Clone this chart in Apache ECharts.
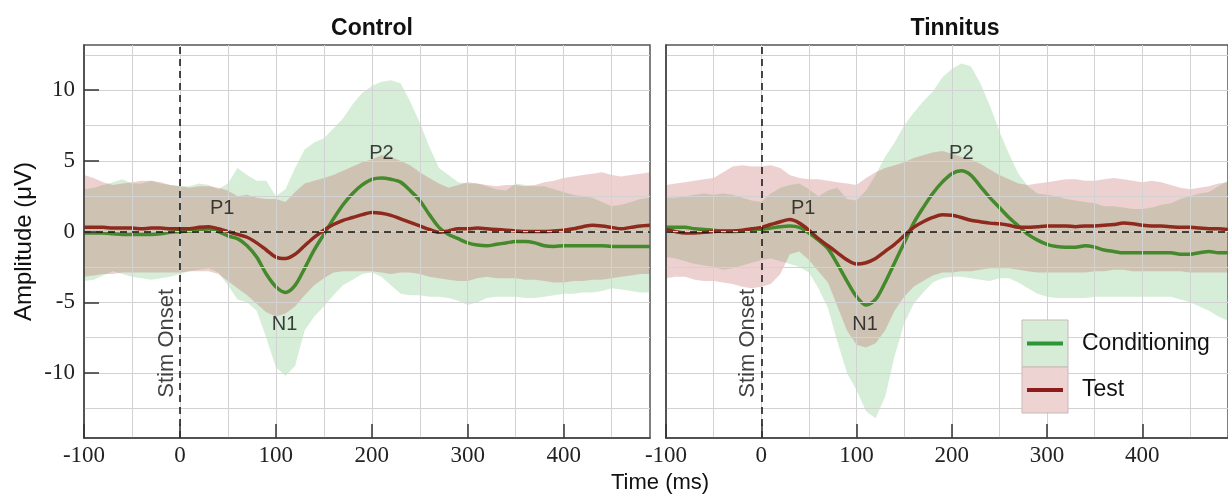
<!DOCTYPE html>
<html>
<head>
<meta charset="utf-8">
<script src="https://cdn.jsdelivr.net/npm/echarts@6/dist/echarts.min.js"></script>
<style>
  html, body { margin: 0; padding: 0; background: #fff; }
  #chart { width: 1228px; height: 497px; }
</style>
</head>
<body>
<div id="chart"></div>
<script>
// time axis (ms)
const times = [-100, -90, -80, -70, -60, -50, -40, -30, -20, -10,
  0, 10, 20, 30, 40, 50, 60, 70, 80, 90,
  100, 110, 120, 130, 140, 150, 160, 170, 180, 190,
  200, 210, 220, 230, 240, 250, 260, 270, 280, 290,
  300, 310, 320, 330, 340, 350, 360, 370, 380, 390,
  400, 410, 420, 430, 440, 450, 460, 470, 480, 490];

// Control - Conditioning
const ctrlCondMean = [-0.1, -0.1, -0.1, -0.15, -0.2, -0.2, -0.2, -0.2, -0.15, -0.05,
  0.0, 0.05, 0.1, 0.2, 0.0, -0.3, -0.5, -1.0, -1.8, -3.0,
  -3.9, -4.3, -3.8, -2.6, -1.3, -0.2, 0.9, 1.9, 2.7, 3.3,
  3.7, 3.8, 3.7, 3.5, 2.9, 2.2, 1.2, 0.3, -0.2, -0.5,
  -0.8, -0.95, -1.0, -0.9, -0.8, -0.7, -0.7, -0.8, -1.0, -1.05,
  -1.0, -1.0, -1.0, -1.0, -1.0, -1.05, -1.05, -1.05, -1.05, -1.05];
const ctrlCondHigh = [3.0, 3.1, 3.3, 3.5, 3.7, 3.4, 3.4, 3.6, 3.4, 3.3,
  3.2, 3.2, 3.4, 3.3, 3.0, 3.4, 4.5, 4.0, 3.6, 3.6,
  2.5, 3.0, 4.5, 5.8, 6.3, 6.6, 7.3, 8.0, 9.0, 9.8,
  10.3, 10.6, 10.7, 10.5, 9.2, 7.7, 6.0, 4.5, 4.0, 3.5,
  3.4, 3.4, 3.2, 3.0, 2.9, 3.4, 3.3, 3.2, 3.2, 3.0,
  2.8, 2.6, 2.5, 2.4, 2.1, 1.8, 1.9, 2.1, 2.3, 2.4];
const ctrlCondLow = [-3.5, -3.4, -3.1, -2.8, -3.0, -3.2, -3.3, -3.4, -3.3, -3.2,
  -3.0, -2.8, -2.7, -2.6, -2.9, -3.8, -4.8, -5.0, -5.6, -7.5,
  -9.6, -10.2, -9.5, -7.0, -6.0, -5.3, -4.5, -3.8, -3.4, -3.0,
  -2.9, -3.2, -3.8, -4.4, -4.5, -4.5, -4.6, -4.6, -4.7, -4.9,
  -5.2, -5.0, -4.7, -4.6, -4.6, -4.6, -4.7, -4.7, -4.6, -4.5,
  -4.4, -4.4, -4.3, -4.3, -4.2, -4.0, -4.1, -4.2, -4.3, -4.3];

// Control - Test
const ctrlTestMean = [0.3, 0.3, 0.3, 0.25, 0.25, 0.25, 0.2, 0.25, 0.25, 0.2,
  0.2, 0.2, 0.3, 0.35, 0.2, 0.0, -0.2, -0.4, -0.8, -1.3,
  -1.8, -1.9, -1.6, -1.0, -0.4, 0.1, 0.5, 0.8, 1.0, 1.2,
  1.35, 1.3, 1.15, 0.9, 0.65, 0.4, 0.15, -0.05, 0.05, 0.2,
  0.2, 0.25, 0.2, 0.15, 0.1, 0.05, 0.0, 0.0, 0.0, 0.05,
  0.1, 0.2, 0.35, 0.45, 0.4, 0.3, 0.2, 0.3, 0.4, 0.45];
const ctrlTestHigh = [4.0, 3.8, 3.5, 3.3, 3.4, 3.5, 3.6, 3.6, 3.5, 3.3,
  3.2, 3.1, 3.2, 3.2, 3.1, 2.9, 2.5, 2.6, 2.4, 2.3,
  2.3, 2.1, 2.8, 3.4, 3.6, 3.8, 4.0, 4.3, 4.6, 4.9,
  5.1, 5.4, 5.3, 5.0, 4.7, 4.2, 3.8, 3.4, 3.1, 3.3,
  3.5, 3.4, 3.3, 3.2, 3.3, 3.3, 3.2, 3.3, 3.5, 3.6,
  3.8, 3.9, 4.0, 4.1, 4.2, 4.0, 3.9, 4.0, 4.1, 4.2];
const ctrlTestLow = [-3.2, -3.1, -3.0, -3.0, -2.9, -2.9, -2.9, -2.9, -2.9, -2.9,
  -2.9, -2.8, -2.8, -2.8, -3.0, -3.5, -4.0, -4.5, -5.1, -5.7,
  -6.0, -5.8, -5.3, -4.5, -3.8, -3.3, -2.9, -2.8, -2.8, -2.8,
  -2.8, -2.9, -3.0, -2.9, -2.9, -3.0, -3.2, -3.3, -3.4, -3.5,
  -3.5, -3.3, -3.2, -3.3, -3.3, -3.3, -3.4, -3.4, -3.5, -3.6,
  -3.6, -3.5, -3.5, -3.4, -3.4, -3.3, -3.2, -3.1, -3.0, -3.0];

// Tinnitus - Conditioning
const tinnCondMean = [0.3, 0.3, 0.3, 0.2, 0.15, 0.1, 0.0, 0.0, 0.05, 0.1,
  0.15, 0.25, 0.35, 0.4, 0.3, -0.1, -0.6, -1.2, -2.3, -3.5,
  -4.6, -5.2, -4.8, -3.6, -2.2, -0.8, 0.6, 1.7, 2.7, 3.5,
  4.1, 4.3, 4.0, 3.2, 2.4, 1.7, 1.0, 0.4, -0.2, -0.6,
  -0.9, -1.05, -1.1, -1.1, -1.0, -1.1, -1.3, -1.4, -1.5, -1.5,
  -1.5, -1.5, -1.5, -1.5, -1.6, -1.6, -1.5, -1.4, -1.5, -1.5];
const tinnCondHigh = [2.4, 2.4, 2.5, 2.6, 2.7, 2.6, 2.7, 2.6, 2.4, 2.2,
  2.1, 2.7, 3.1, 3.3, 3.4, 3.0, 2.5, 2.9, 3.1, 2.3,
  2.2, 2.9, 4.0, 5.3, 6.3, 7.5, 8.4, 9.2, 9.9, 10.9,
  11.5, 11.9, 11.7, 10.5, 8.9, 7.1, 5.5, 4.1, 3.2, 2.7,
  2.6, 2.5, 2.3, 2.2, 2.1, 2.0, 1.8, 1.8, 1.7, 1.6,
  1.6, 1.7, 1.9, 2.0, 2.3, 2.5, 2.7, 2.8, 3.2, 3.6];
const tinnCondLow = [-1.8, -1.9, -2.1, -2.3, -2.4, -2.5, -2.7, -2.6, -2.4, -2.2,
  -2.0, -1.9, -2.1, -2.3, -2.5, -2.9, -4.0, -5.4, -7.8, -10.0,
  -11.2, -12.7, -13.2, -11.7, -8.8, -6.5, -5.1, -4.3, -3.6, -3.3,
  -3.2, -3.2, -3.3, -3.4, -3.5, -3.3, -3.3, -3.6, -4.0, -4.4,
  -4.6, -4.7, -4.7, -4.7, -4.7, -4.6, -4.6, -4.6, -4.6, -4.6,
  -4.6, -4.6, -4.6, -4.6, -4.8, -5.0, -5.3, -5.6, -6.0, -6.3];

// Tinnitus - Test
const tinnTestMean = [0.15, 0.0, -0.1, -0.1, -0.05, 0.0, 0.05, 0.05, 0.1, 0.2,
  0.3, 0.5, 0.7, 0.85, 0.6, 0.1, -0.5, -1.0, -1.5, -2.0,
  -2.3, -2.2, -1.9, -1.4, -0.9, -0.3, 0.3, 0.7, 1.0, 1.2,
  1.15, 1.0, 0.8, 0.7, 0.6, 0.55, 0.45, 0.3, 0.3, 0.35,
  0.4, 0.4, 0.4, 0.35, 0.4, 0.4, 0.45, 0.5, 0.6, 0.55,
  0.45, 0.4, 0.4, 0.35, 0.3, 0.3, 0.25, 0.2, 0.2, 0.15];
const tinnTestHigh = [3.3, 3.4, 3.5, 3.6, 3.7, 3.8, 4.2, 4.6, 4.7, 4.6,
  4.6, 4.7, 4.5, 4.0, 3.8, 3.7, 3.7, 3.6, 3.5, 3.4,
  3.3, 3.8, 4.2, 4.5, 4.7, 4.9, 5.2, 5.4, 5.6, 5.7,
  5.5, 5.3, 5.1, 4.8, 4.4, 4.0, 3.7, 3.4, 3.3, 3.4,
  3.5, 3.6, 3.7, 3.7, 3.6, 3.6, 3.7, 3.8, 3.7, 3.6,
  3.5, 3.6, 3.5, 3.3, 3.1, 3.0, 3.1, 3.2, 3.4, 3.5];
const tinnTestLow = [-3.3, -3.2, -3.2, -3.4, -3.5, -3.5, -3.6, -3.7, -3.9, -4.0,
  -3.9, -3.7, -3.0, -1.6, -1.4, -2.0, -2.8, -3.6, -5.3, -7.0,
  -8.0, -8.2, -7.9, -7.0, -5.6, -4.6, -3.9, -3.5, -3.1, -2.9,
  -2.9, -2.8, -2.8, -2.7, -2.6, -2.6, -2.6, -2.7, -2.8, -2.9,
  -2.9, -2.9, -2.9, -2.9, -2.9, -2.8, -2.8, -2.7, -2.7, -2.8,
  -2.8, -2.8, -2.8, -2.8, -2.8, -2.9, -2.9, -2.9, -2.9, -2.9];

// grid lines and annotations
const xGridLines = [-50, 0, 50, 100, 150, 200, 250, 300, 350, 400, 450];
const yGridLines = [-12.5, -10, -7.5, -5, -2.5, 0, 2.5, 5, 7.5, 10, 12.5];
const peakNames = ['P1', 'P2', 'N1'];
const peakTimes = [44, 210, 109];
const peakAmps = [1.65, 5.5, -6.6];
const onsetLabelPos = [-14, -7.9];

const SANS = '"Liberation Sans", Arial, sans-serif';
const SERIF = '"Liberation Serif", "Times New Roman", serif';
const GREEN = '#44892c';
const RED = '#8d2a1d';
const GREEN_FILL = 'rgba(90, 185, 95, 0.25)';
const RED_FILL = 'rgba(185, 70, 70, 0.25)';

function pairs(arr) {
  return times.map((t, i) => [t, arr[i]]);
}

function xAxisFor(g) {
  return {
    type: 'value', gridIndex: g, min: -100, max: 490, interval: 100, z: 10,
    axisLine: { onZero: false, lineStyle: { color: '#444', width: 1.5 } },
    axisTick: { inside: true, length: 14, lineStyle: { color: '#333', width: 1.5 } },
    axisLabel: { showMaxLabel: false, fontFamily: SERIF, fontSize: 23, color: '#222', margin: 6 },
    splitLine: { show: false }
  };
}

function yAxisFor(g, withLabels) {
  return {
    type: 'value', gridIndex: g, min: -14.6, max: 13.2, splitNumber: 5, z: 10,
    name: withLabels ? 'Amplitude (μV)' : '',
    nameLocation: 'middle', nameGap: 48,
    nameTextStyle: { fontFamily: SANS, fontSize: 24, color: '#111' },
    axisLine: { show: true, onZero: false, lineStyle: { color: '#444', width: 1.5 } },
    axisTick: { show: withLabels, inside: true, length: 15, lineStyle: { color: '#333', width: 1.5 } },
    axisLabel: { show: withLabels, showMinLabel: false, showMaxLabel: false, fontFamily: SERIF, fontSize: 23, color: '#222', margin: 9 },
    splitLine: { show: false }
  };
}

function bandSeries(g, low, high, fill) {
  return {
    type: 'custom', xAxisIndex: g, yAxisIndex: g, z: 2, silent: true,
    data: [[times[0], low[0]]],
    renderItem: function (params, api) {
      const pts = [];
      for (let i = 0; i < times.length; i++) pts.push(api.coord([times[i], high[i]]));
      for (let i = times.length - 1; i >= 0; i--) pts.push(api.coord([times[i], low[i]]));
      return { type: 'polygon', shape: { points: pts }, style: { fill: fill } };
    }
  };
}

function meanSeries(g, arr, color) {
  return {
    type: 'line', xAxisIndex: g, yAxisIndex: g, z: 4, silent: true,
    data: pairs(arr), smooth: 0.3, showSymbol: false,
    lineStyle: { color: color, width: 3.5 }
  };
}

function panelSeries(g, condMean, condLow, condHigh, testMean, testLow, testHigh) {
  return [
    // grid lines
    {
      type: 'line', xAxisIndex: g, yAxisIndex: g, data: [], z: 1, silent: true,
      markLine: {
        silent: true, symbol: 'none', label: { show: false },
        lineStyle: { color: '#d2d2d2', width: 1, type: 'solid' },
        data: xGridLines.map(v => ({ xAxis: v })).concat(yGridLines.map(v => ({ yAxis: v })))
      }
    },
    bandSeries(g, condLow, condHigh, GREEN_FILL),
    bandSeries(g, testLow, testHigh, RED_FILL),
    // stim onset + zero line
    {
      type: 'line', xAxisIndex: g, yAxisIndex: g, data: [], z: 3, silent: true,
      markLine: {
        silent: true, symbol: 'none', label: { show: false },
        lineStyle: { color: '#111', width: 1.5, type: [7, 5] },
        data: [{ xAxis: 0 }, { yAxis: 0 }]
      }
    },
    meanSeries(g, condMean, GREEN),
    meanSeries(g, testMean, RED),
    // annotations
    {
      type: 'scatter', xAxisIndex: g, yAxisIndex: g, z: 5, silent: true,
      symbolSize: 1, itemStyle: { color: 'transparent' },
      label: { show: true, position: 'inside', formatter: '{b}', fontFamily: SANS, fontSize: 20, color: '#111' },
      data: peakNames.map((n, i) => ({ name: n, value: [peakTimes[i], peakAmps[i]] })).concat([{
        name: 'Stim Onset', value: onsetLabelPos,
        label: { rotate: 90, fontSize: 22 }
      }])
    }
  ];
}

const chart = echarts.init(document.getElementById('chart'));
chart.setOption({
  animation: false,
  backgroundColor: '#fff',
  title: [
    { text: 'Control', left: 367, top: 12, textAlign: 'center', textStyle: { fontFamily: SANS, fontSize: 23, fontWeight: 'bold', color: '#111' } },
    { text: 'Tinnitus', left: 950, top: 12, textAlign: 'center', textStyle: { fontFamily: SANS, fontSize: 23, fontWeight: 'bold', color: '#111' } }
  ],
  grid: [
    { left: 84, top: 45, width: 566, height: 393, show: true, borderColor: '#555', borderWidth: 1.5 },
    { left: 666, top: 45, width: 568, height: 393, show: true, borderColor: '#555', borderWidth: 1.5 }
  ],
  xAxis: [xAxisFor(0), xAxisFor(1)],
  yAxis: [yAxisFor(0, true), yAxisFor(1, false)],
  series: panelSeries(0, ctrlCondMean, ctrlCondLow, ctrlCondHigh, ctrlTestMean, ctrlTestLow, ctrlTestHigh)
    .concat(panelSeries(1, tinnCondMean, tinnCondLow, tinnCondHigh, tinnTestMean, tinnTestLow, tinnTestHigh)),
  graphic: [
    { type: 'text', left: 611, top: 472, style: { text: 'Time (ms)', font: '22px ' + SANS, fill: '#111' } },
    // legend
    { type: 'rect', shape: { x: 1022, y: 320, width: 46, height: 47 }, style: { fill: '#d7ecd6', stroke: '#c9b9b9', lineWidth: 1 }, z: 10 },
    { type: 'rect', shape: { x: 1022, y: 367, width: 46, height: 46 }, style: { fill: '#eed3d3', stroke: '#c9b9b9', lineWidth: 1 }, z: 10 },
    { type: 'line', shape: { x1: 1027, y1: 343.5, x2: 1063, y2: 343.5 }, style: { stroke: '#2f9636', lineWidth: 4 }, z: 11 },
    { type: 'line', shape: { x1: 1027, y1: 390, x2: 1063, y2: 390 }, style: { stroke: '#8c1c1c', lineWidth: 4 }, z: 11 },
    { type: 'text', x: 1082, y: 343.5, style: { text: 'Conditioning', font: '23px ' + SANS, fill: '#111', verticalAlign: 'middle' }, z: 11 },
    { type: 'text', x: 1082, y: 390, style: { text: 'Test', font: '23px ' + SANS, fill: '#111', verticalAlign: 'middle' }, z: 11 }
  ]
});
</script>
</body>
</html>
